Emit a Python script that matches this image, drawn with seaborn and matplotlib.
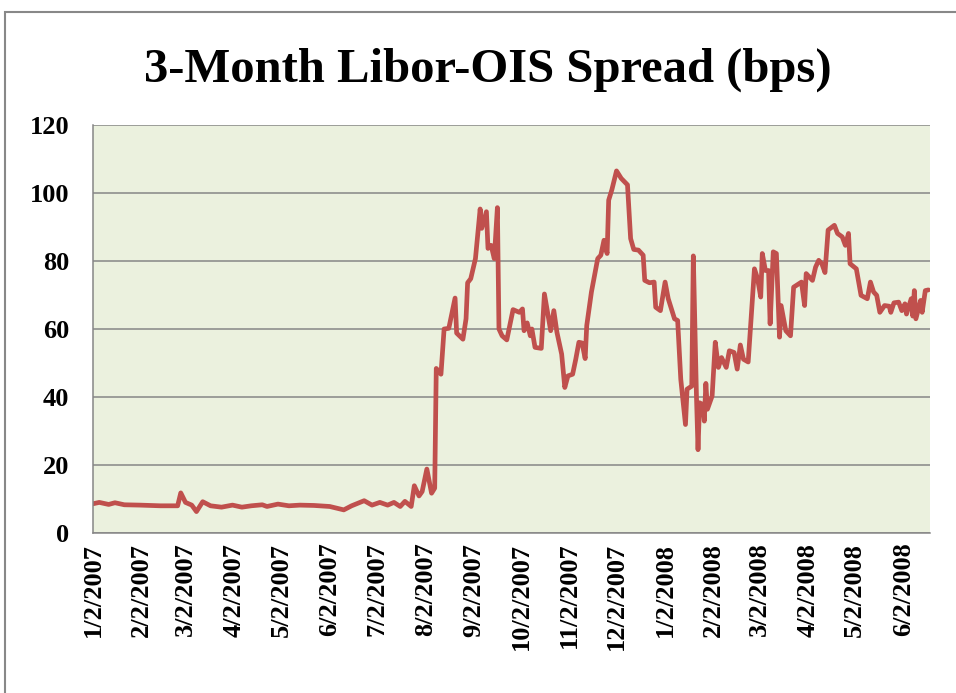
import pandas as pd
import seaborn as sns
import matplotlib.pyplot as plt
from matplotlib.patches import Rectangle

# Data: days after 1/2/2007 and spread in bps
start_date = "2007-01-02"
day_offset = [
    0, 4, 10, 14, 20, 30, 43, 54, 56, 59, 63, 66, 70, 75, 82, 89, 95, 101, 108, 111,
    118, 125, 132, 141, 151, 160, 165, 173, 178, 183, 188, 192, 196, 199, 203, 205, 208, 210, 213, 216,
    218, 219, 222, 224, 227, 231, 232, 236, 238, 239, 241, 244, 247, 248, 251, 252, 254, 256, 258, 259,
    261, 264, 268, 272, 274, 275, 277, 279, 280, 282, 286, 288, 290, 292, 294, 296, 299, 301, 303, 306,
    308, 310, 312, 314, 315, 318, 322, 324, 326, 328, 329, 331, 334, 337, 341, 343, 345, 348, 351, 352,
    355, 358, 359, 362, 365, 367, 371, 373, 375, 378, 379, 382, 383, 385, 386, 387, 389, 390, 391, 392,
    395, 397, 399, 401, 404, 406, 409, 411, 413, 415, 418, 422, 424, 426, 427, 429, 431, 432, 434, 436,
    438, 439, 442, 444, 445, 447, 452, 454, 455, 459, 461, 463, 465, 467, 469, 473, 475, 478, 480, 482,
    483, 487, 490, 494, 496, 498, 500, 502, 505, 508, 509, 511, 514, 516, 518, 519, 522, 523, 524, 525,
    528, 529, 531, 533,
]
spread_bps = [
    8.6, 9.0, 8.4, 8.9, 8.3, 8.2, 8.0, 8.0, 11.8, 9.0, 8.2, 6.3, 9.2, 8.0, 7.6, 8.2, 7.6, 8.0, 8.3, 7.8,
    8.5, 8.0, 8.2, 8.1, 7.8, 6.8, 8.0, 9.5, 8.2, 9.0, 8.2, 9.0, 7.8, 9.3, 7.8, 13.9, 10.9, 12.2, 18.8, 11.7,
    13.2, 48.4, 46.7, 60.0, 60.2, 69.1, 58.8, 57.0, 63.0, 73.6, 74.8, 80.7, 95.3, 89.6, 94.5, 83.7, 84.6, 80.7, 95.7, 60.0,
    58.0, 56.8, 65.7, 64.9, 65.9, 59.5, 61.8, 58.0, 60.0, 54.6, 54.3, 70.3, 64.9, 59.5, 65.4, 59.0, 52.6, 42.8, 46.2, 46.7,
    51.1, 56.1, 55.9, 51.3, 61.0, 70.9, 80.7, 81.7, 86.1, 82.2, 97.9, 100.9, 106.5, 104.3, 102.4, 86.6, 83.4, 83.2, 81.7, 74.3,
    73.6, 73.8, 66.4, 65.4, 73.8, 68.9, 63.0, 62.5, 45.2, 31.9, 42.3, 43.2, 81.5, 40.3, 24.5, 38.3, 37.8, 32.9, 44.0, 36.4,
    40.3, 56.1, 48.7, 51.6, 48.7, 53.6, 53.1, 48.2, 55.3, 51.1, 50.3, 77.7, 74.8, 69.4, 82.2, 77.2, 77.2, 61.5, 82.7, 82.2,
    57.6, 66.9, 59.5, 58.5, 58.0, 72.3, 73.8, 66.9, 76.3, 74.3, 78.2, 80.2, 79.2, 76.6, 89.1, 90.5, 88.1, 87.1, 84.6, 88.1,
    79.2, 77.7, 69.9, 68.9, 73.8, 70.9, 69.9, 64.9, 66.9, 66.7, 64.9, 67.7, 67.9, 65.4, 67.4, 64.4, 68.9, 63.8, 71.3, 63.0,
    68.4, 64.9, 71.3, 71.5,
]
y_ticks = [0, 20, 40, 60, 80, 100, 120]
title = "3-Month Libor-OIS Spread (bps)"

df = pd.DataFrame({
    "date": pd.Timestamp(start_date) + pd.to_timedelta(day_offset, unit="D"),
    "spread": spread_bps,
})

sns.set_style("white")
plt.rcParams["font.family"] = ["Liberation Serif", "DejaVu Serif"]
plt.rcParams["font.weight"] = "bold"
plt.rcParams["text.color"] = "black"
plt.rcParams["xtick.color"] = "black"
plt.rcParams["ytick.color"] = "black"

fig = plt.figure(figsize=(9.56, 6.93), dpi=100)
ax = fig.add_axes([93 / 956, 1 - 533 / 693, (930 - 93) / 956, (533 - 125) / 693])
ax.set_facecolor("#EBF1DE")

sns.lineplot(data=df, x="date", y="spread", color="#C0504D", linewidth=3.4, ax=ax)

# monthly date ticks on the 2nd, like the original category labels
tick_dates = pd.date_range("2007-01-02", "2008-06-02", freq=pd.DateOffset(months=1))
ax.set_xticks(tick_dates)
ax.set_xticklabels([f"{d.month}/{d.day}/{d.year}" for d in tick_dates],
                   rotation=90, fontsize=19, fontweight="bold", color="black")
ax.set_xlim(pd.Timestamp(start_date), pd.Timestamp(start_date) + pd.Timedelta(days=534))

ax.set_ylim(0, 120)
ax.set_yticks(y_ticks)
ax.set_yticklabels([str(v) for v in y_ticks], fontsize=19, fontweight="bold", color="black")
ax.tick_params(axis="y", length=0, pad=17)
ax.tick_params(axis="x", length=0, pad=7)
ax.set_xlabel("")
ax.set_ylabel("")

ax.grid(axis="y", color="#868686", linewidth=1.1)
ax.grid(axis="x", visible=False)
for side in ["top", "right"]:
    ax.spines[side].set_visible(False)
for side in ["left", "bottom"]:
    ax.spines[side].set_color("#868686")
    ax.spines[side].set_linewidth(1.1)

fig.text(488 / 956, 1 - 82 / 693, title, ha="center", va="baseline",
         fontsize=35, fontweight="bold", color="black")

# outer chart border
fig.patches.append(Rectangle((5 / 956, -0.02), 1.0, 1 - 12 / 693 + 0.02,
                             transform=fig.transFigure, fill=False,
                             edgecolor="#888888", linewidth=1.5))

fig.savefig("out.png", dpi=100)
